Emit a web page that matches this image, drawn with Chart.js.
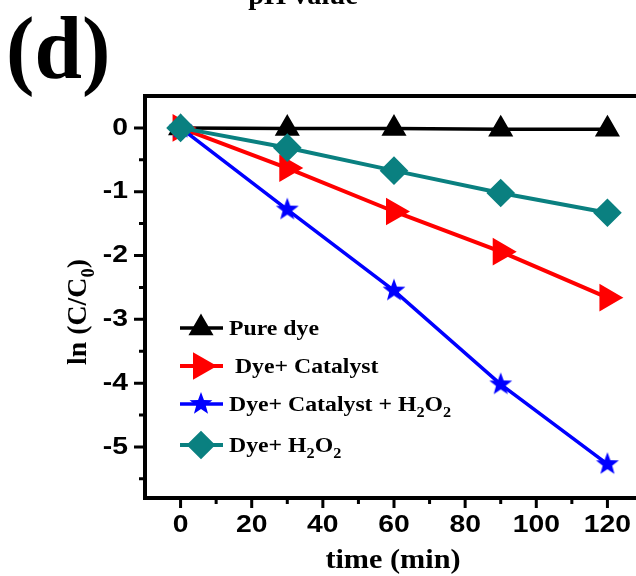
<!DOCTYPE html>
<html>
<head>
<meta charset="utf-8">
<script src="https://cdn.jsdelivr.net/npm/chart.js@4.4.0/dist/chart.umd.min.js"></script>
<style>
  html, body { margin: 0; padding: 0; background: #fff; overflow: hidden; width: 636px; height: 576px; }
  canvas { display: block; }
</style>
</head>
<body>
<canvas id="chart" width="660" height="576"></canvas>
<script>
// ===== Data =====
const times = [0, 30, 60, 90, 120];
const pureDye = [0, -0.01, -0.01, -0.02, -0.02];
const dyeCatalyst = [0, -0.63, -1.31, -1.94, -2.66];
const dyeCatalystH2O2 = [0, -1.28, -2.55, -4.02, -5.27];
const dyeH2O2 = [0, -0.31, -0.67, -1.02, -1.33];

const seriesLabels = ["Pure dye", " Dye+ Catalyst", "Dye+ Catalyst + H_2O_2", "Dye+ H_2O_2"];

const xTicks = [0, 20, 40, 60, 80, 100, 120];
const xMinor = [10, 30, 50, 70, 90, 110];
const yTicks = [0, -1, -2, -3, -4, -5];
const yMinor = [-0.5, -1.5, -2.5, -3.5, -4.5, -5.5];

const SERIF = '"Liberation Serif", "Times New Roman", serif';
const SANS = '"Liberation Sans", Arial, sans-serif';

// ===== Star marker =====
function makeStar(color, R, r) {
  const c = document.createElement("canvas");
  c.width = c.height = 2 * R + 2;
  const g = c.getContext("2d");
  g.fillStyle = color;
  g.beginPath();
  for (let i = 0; i < 10; i++) {
    const a = -Math.PI / 2 + i * Math.PI / 5;
    const rr = i % 2 ? r : R;
    g.lineTo(R + 1 + rr * Math.cos(a), R + 1 + rr * Math.sin(a));
  }
  g.closePath();
  g.fill();
  return c;
}
const star = makeStar("#0000ff", 12, 5);

// ===== Text with subscripts (_x) and horizontal stretch =====
function drawRich(ctx, str, x, y, size, sx, align) {
  const segs = [];
  for (let i = 0; i < str.length; i++) {
    if (str[i] === "_") { segs.push({ t: str[i + 1], sub: true }); i++; }
    else if (segs.length && !segs[segs.length - 1].sub) segs[segs.length - 1].t += str[i];
    else segs.push({ t: str[i], sub: false });
  }
  const subSize = Math.round(size * 0.68);
  let w = 0;
  segs.forEach(s => {
    ctx.font = "bold " + (s.sub ? subSize : size) + "px " + SERIF;
    s.w = ctx.measureText(s.t).width;
    w += s.w;
  });
  ctx.save();
  ctx.translate(x, y);
  ctx.scale(sx, 1);
  let cx = align === "center" ? -w / 2 : 0;
  ctx.textAlign = "left";
  ctx.textBaseline = "alphabetic";
  segs.forEach(s => {
    ctx.font = "bold " + (s.sub ? subSize : size) + "px " + SERIF;
    ctx.fillText(s.t, cx, s.sub ? size * 0.28 : 0);
    cx += s.w;
  });
  ctx.restore();
}

function drawText(ctx, text, x, y, font, sx, align) {
  ctx.save();
  ctx.font = font;
  const w = ctx.measureText(text).width * sx;
  let left = x;
  if (align === "center") left = x - w / 2;
  if (align === "right") left = x - w;
  ctx.translate(left, y);
  ctx.scale(sx, 1);
  ctx.textAlign = "left";
  ctx.textBaseline = "middle";
  ctx.fillText(text, 0, 0);
  ctx.restore();
}

// ===== Axes, frame, texts =====
const decorations = {
  id: "decorations",
  afterDraw(chart) {
    const ctx = chart.ctx;
    const a = chart.chartArea;
    const xs = chart.scales.x, ys = chart.scales.y;
    ctx.save();
    ctx.strokeStyle = "#000";
    ctx.fillStyle = "#000";
    ctx.lineWidth = 4;
    ctx.strokeRect(a.left, a.top, a.right - a.left, a.bottom - a.top);

    ctx.lineWidth = 3;
    ctx.beginPath();
    xTicks.forEach(v => { const px = xs.getPixelForValue(v); ctx.moveTo(px, a.bottom); ctx.lineTo(px, a.bottom + 10); });
    xMinor.forEach(v => { const px = xs.getPixelForValue(v); ctx.moveTo(px, a.bottom); ctx.lineTo(px, a.bottom + 6); });
    yTicks.forEach(v => { const py = ys.getPixelForValue(v); ctx.moveTo(a.left, py); ctx.lineTo(a.left - 11, py); });
    yMinor.forEach(v => { const py = ys.getPixelForValue(v); ctx.moveTo(a.left, py); ctx.lineTo(a.left - 6, py); });
    ctx.stroke();

    const tickFont = "bold 24px " + SANS;
    xTicks.forEach(v => drawText(ctx, String(v), xs.getPixelForValue(v), a.bottom + 27, tickFont, 1.18, "center"));
    yTicks.forEach(v => drawText(ctx, String(v), a.left - 17, ys.getPixelForValue(v), tickFont, 1.18, "right"));

    // axis titles
    drawRich(ctx, "time (min)", 393, 568, 27, 1.12, "center");
    ctx.save();
    ctx.translate(86, 312);
    ctx.rotate(-Math.PI / 2);
    drawRich(ctx, "ln (C/C_0)", 0, 0, 27, 1.03, "center");
    ctx.restore();

    // panel label and cut title
    drawRich(ctx, "(d)", 6, 78, 88, 0.97, "left");
    drawRich(ctx, "pH value", 303, 4, 27, 1.05, "center");

    // legend
    const rows = [328, 366, 404, 445];
    chart.data.datasets.forEach(ds => {
      const y = rows[ds.legendRow];
      ctx.strokeStyle = ds.borderColor;
      ctx.fillStyle = ds.backgroundColor;
      ctx.lineWidth = ds.borderWidth;
      ctx.beginPath();
      ctx.moveTo(180, y);
      ctx.lineTo(223, y);
      ctx.stroke();
      Chart.helpers.drawPoint(ctx, {
        pointStyle: ds.pointStyle, rotation: ds.pointRotation || 0,
        radius: ds.pointRadius, borderWidth: 1
      }, 201, y);
      ctx.fillStyle = "#000";
      drawRich(ctx, seriesLabels[ds.legendRow], 229, y + 7, 22, 1.08, "left");
    });
    ctx.restore();
  }
};

const pts = arr => times.map((t, i) => ({ x: t, y: arr[i] }));

new Chart(document.getElementById("chart"), {
  type: "line",
  data: {
    datasets: [
      { data: pts(pureDye), legendRow: 0, order: 3, borderColor: "#000000", backgroundColor: "#000000",
        borderWidth: 3.5, pointStyle: "triangle", pointRadius: 11 },
      { data: pts(dyeCatalyst), legendRow: 1, order: 2, borderColor: "#ff0000", backgroundColor: "#ff0000",
        borderWidth: 4, pointStyle: "triangle", pointRotation: 90, pointRadius: 12 },
      { data: pts(dyeCatalystH2O2), legendRow: 2, order: 1, borderColor: "#0000ff", backgroundColor: "#0000ff",
        borderWidth: 3.5, pointStyle: star, pointRadius: 12 },
      { data: pts(dyeH2O2), legendRow: 3, order: 0, borderColor: "#0a8080", backgroundColor: "#0a8080",
        borderWidth: 4, pointStyle: "rectRot", pointRadius: 11.5 }
    ]
  },
  options: {
    responsive: false,
    animation: false,
    layout: { padding: { top: 96, right: 17, left: 0, bottom: 0 } },
    plugins: { legend: { display: false }, tooltip: { enabled: false } },
    elements: { line: { tension: 0 }, point: { borderWidth: 1 } },
    scales: {
      x: {
        type: "linear", min: -10, max: 130,
        ticks: { display: false }, grid: { display: false }, border: { display: false },
        afterFit: s => { s.height = 78; }
      },
      y: {
        type: "linear", min: -5.8, max: 0.5,
        ticks: { display: false }, grid: { display: false }, border: { display: false },
        afterFit: s => { s.width = 145; }
      }
    }
  },
  plugins: [decorations]
});
</script>
</body>
</html>
